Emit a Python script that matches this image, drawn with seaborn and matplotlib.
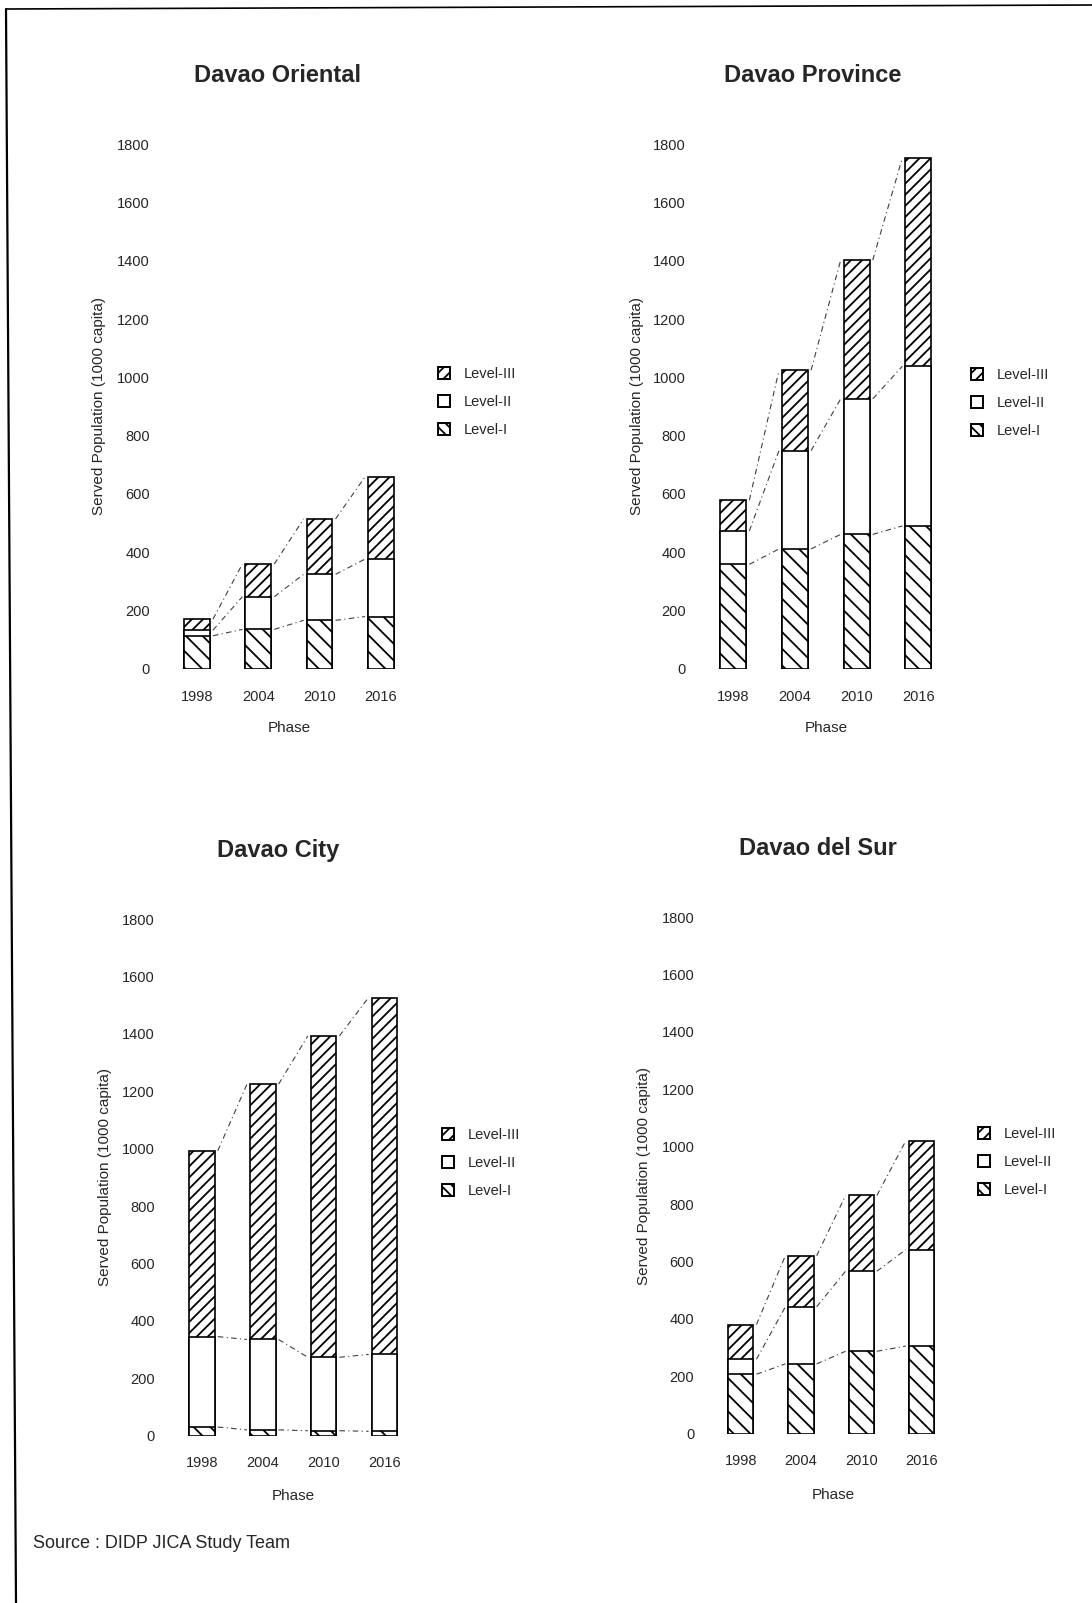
import numpy as np
import pandas as pd
import matplotlib
matplotlib.use('Agg')
import matplotlib.pyplot as plt
from matplotlib.patches import Patch
from matplotlib.lines import Line2D
import seaborn as sns

# data (1000 capita)
phases = ['1998', '2004', '2010', '2016']
level_names = ['Level-III', 'Level-II', 'Level-I']

oriental_l1 = [113, 135, 166, 179]
oriental_l2 = [19, 112, 158, 197]
oriental_l3 = [38, 112, 190, 282]

province_l1 = [358, 411, 461, 490]
province_l2 = [115, 337, 465, 548]
province_l3 = [105, 276, 476, 715]

city_l1 = [30, 20, 17, 15]
city_l2 = [315, 315, 256, 268]
city_l3 = [648, 890, 1120, 1244]

sur_l1 = [207, 243, 287, 305]
sur_l2 = [52, 199, 279, 336]
sur_l3 = [121, 178, 264, 379]

yticks = list(range(0, 1801, 200))

sns.set_style('white')
plt.rcParams['font.family'] = ['Liberation Sans', 'DejaVu Sans']
plt.rcParams['hatch.linewidth'] = 1.3
plt.rcParams['hatch.color'] = 'black'

W, H = 1092, 1603
fig = plt.figure(figsize=(W / 100, H / 100), dpi=100)
fig.patch.set_facecolor('white')

bar_w = 0.42

# panel layout in pixels: first bar centre, bar spacing, y of 0, y of 1800
panels = [
    dict(title='Davao Oriental', l1=oriental_l1, l2=oriental_l2, l3=oriental_l3,
         x0=197, dx=61.3, yb=668.7, yt=144.2, title_xy=(277, 75),
         xlab=(289, 728), ylab=(99, 406), leg=(438, 402)),
    dict(title='Davao Province', l1=province_l1, l2=province_l2, l3=province_l3,
         x0=733.3, dx=61.7, yb=668.7, yt=144.2, title_xy=(813, 75),
         xlab=(826, 728), ylab=(637, 406), leg=(971, 403)),
    dict(title='Davao City', l1=city_l1, l2=city_l2, l3=city_l3,
         x0=202, dx=60.8, yb=1435.6, yt=919.2, title_xy=(278, 850),
         xlab=(293, 1496), ylab=(105, 1177), leg=(442, 1163)),
    dict(title='Davao del Sur', l1=sur_l1, l2=sur_l2, l3=sur_l3,
         x0=740.8, dx=60.2, yb=1433.6, yt=917.2, title_xy=(818, 848),
         xlab=(833, 1495), ylab=(644, 1176), leg=(978, 1162)),
]

for p in panels:
    left = p['x0'] - 0.6 * p['dx']
    width = 4.2 * p['dx']
    ax = fig.add_axes([left / W, 1 - p['yb'] / H, width / W, (p['yb'] - p['yt']) / H])
    ax.set_facecolor('none')

    l1 = np.array(p['l1'])
    l12 = l1 + np.array(p['l2'])
    total = l12 + np.array(p['l3'])
    df = pd.DataFrame({'phase': phases, 'l1': l1, 'l12': l12, 'total': total})

    # stacked look: tallest bar first, lower levels drawn over it
    sns.barplot(data=df, x='phase', y='total', color='white', edgecolor='black',
                linewidth=1.2, hatch='///', width=bar_w, errorbar=None, ax=ax)
    sns.barplot(data=df, x='phase', y='l12', color='white', edgecolor='black',
                linewidth=1.2, width=bar_w, errorbar=None, ax=ax)
    sns.barplot(data=df, x='phase', y='l1', color='white', edgecolor='black',
                linewidth=1.2, hatch='\\\\', width=bar_w, errorbar=None, ax=ax)
    for bar in ax.patches:
        bar.set_facecolor('white')

    # dash-dot connectors between the level boundaries of adjacent bars
    for cum in [l1, l12, total]:
        for i in range(len(phases) - 1):
            ax.plot([i + bar_w / 2 + 0.05, i + 1 - bar_w / 2 - 0.05], [cum[i], cum[i + 1]],
                    ls=(0, (5, 3, 1, 3)), lw=0.8, color='0.25')

    ax.set_xlim(-0.6, 3.6)
    ax.set_ylim(0, 1800)
    ax.set_yticks(yticks)
    sns.despine(ax=ax, left=True, bottom=True)
    ax.tick_params(axis='y', length=1.5, width=1, color='0.45', pad=6, labelsize=10.5)
    ax.tick_params(axis='x', length=0, pad=15, labelsize=10.5)

    inv = ax.transAxes.inverted()
    ax.set_xlabel('Phase', fontsize=11, va='center')
    ax.xaxis.set_label_coords(*inv.transform((p['xlab'][0], H - p['xlab'][1])))
    ax.set_ylabel('Served Population (1000 capita)', fontsize=11, va='center')
    ax.yaxis.set_label_coords(*inv.transform((p['ylab'][0], H - p['ylab'][1])))

    fig.text(p['title_xy'][0] / W, 1 - p['title_xy'][1] / H, p['title'],
             fontsize=17, fontweight='bold', ha='center', va='center')

    handles = [Patch(facecolor='white', edgecolor='black', hatch='///', lw=1.4),
               Patch(facecolor='white', edgecolor='black', lw=1.4),
               Patch(facecolor='white', edgecolor='black', hatch='\\\\\\', lw=1.4)]
    ax.legend(handles, level_names, loc='center left',
              bbox_to_anchor=(p['leg'][0] / W, 1 - p['leg'][1] / H),
              bbox_transform=fig.transFigure, frameon=False, borderpad=0,
              borderaxespad=0, fontsize=10.5, handlelength=0.85, handleheight=0.85,
              handletextpad=0.9, labelspacing=0.95)

fig.text(33 / W, 1 - 1543 / H, 'Source : DIDP JICA Study Team', fontsize=13,
         ha='left', va='center')

# page border of the scanned sheet
fig.add_artist(Line2D([6 / W, 16 / W], [1 - 9 / H, 0], transform=fig.transFigure,
                      color='black', lw=1.6))
fig.add_artist(Line2D([6 / W, 1], [1 - 9 / H, 1 - 5 / H], transform=fig.transFigure,
                      color='black', lw=1.2))

fig.savefig('out.png', dpi=100, facecolor='white')
